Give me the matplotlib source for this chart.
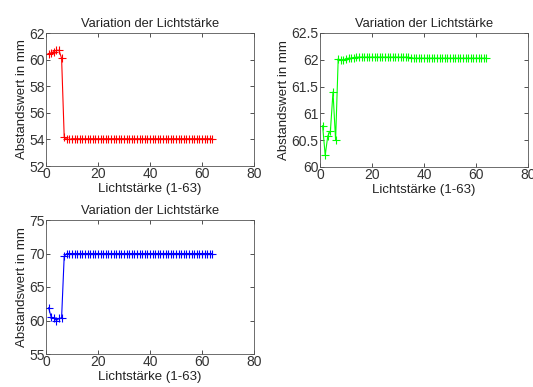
import numpy as np
import matplotlib
matplotlib.use("Agg")
import matplotlib.pyplot as plt

plt.rcParams['font.family'] = ['Liberation Sans', 'DejaVu Sans']

x = np.arange(1, 65)

red_start = [60.4, 60.5, 60.6, 60.7, 60.7, 60.1, 54.2, 54.0, 54.0]
red_rest = [54.05] * (64 - len(red_start))
red = red_start + red_rest

green_start = [60.77, 60.22, 60.58, 60.67, 61.4, 60.5, 62.02, 61.99, 62.0, 62.02,
               62.03, 62.03, 62.04, 62.05]
green_mid = [62.05] * 20
green_end = [62.03] * (64 - len(green_start) - len(green_mid))
green = green_start + green_mid + green_end

blue_start = [61.9, 60.5, 60.4, 60.0, 60.3, 60.4, 69.6, 70.0]
blue_rest = [70.0] * (64 - len(blue_start))
blue = blue_start + blue_rest

title = "Variation der Lichtstärke"
xlabel = "Lichtstärke (1-63)"
ylabel = "Abstandswert in mm"

panels = [
    (red, "#ff0000", (52, 62), [52, 54, 56, 58, 60, 62], ["52", "54", "56", "58", "60", "62"],
     [46 / 533, 1 - 166 / 387, 208 / 533, 133 / 387]),
    (green, "#00ff00", (60, 62.5), [60, 60.5, 61, 61.5, 62, 62.5],
     ["60", "60.5", "61", "61.5", "62", "62.5"],
     [320 / 533, 1 - 167 / 387, 208 / 533, 134 / 387]),
    (blue, "#0000ff", (55, 75), [55, 60, 65, 70, 75], ["55", "60", "65", "70", "75"],
     [46 / 533, 1 - 354 / 387, 208 / 533, 134 / 387]),
]

fig = plt.figure(figsize=(5.33, 3.87), dpi=100)
for values, color, ylim, yticks, yticklabels, rect in panels:
    ax = fig.add_axes(rect)
    ax.plot(x, values, '-', color=color, lw=0.8, marker='+', ms=6, mew=0.8)
    ax.set_xlim(0, 80)
    ax.set_ylim(*ylim)
    ax.set_xticks([0, 20, 40, 60, 80])
    ax.set_yticks(yticks)
    ax.set_yticklabels(yticklabels)
    ax.tick_params(direction='in', top=True, right=True, length=3, width=0.6,
                   labelsize=10, colors='#333333', pad=1)
    for s in ax.spines.values():
        s.set_linewidth(0.6)
        s.set_color('#555555')
    ax.set_title(title, fontsize=9.3, pad=4.5, color='#222222')
    ax.set_xlabel(xlabel, fontsize=9.5, labelpad=1, color='#222222')
    ax.set_ylabel(ylabel, fontsize=9.5, labelpad=1, color='#222222')

fig.savefig("out.png", dpi=100)
